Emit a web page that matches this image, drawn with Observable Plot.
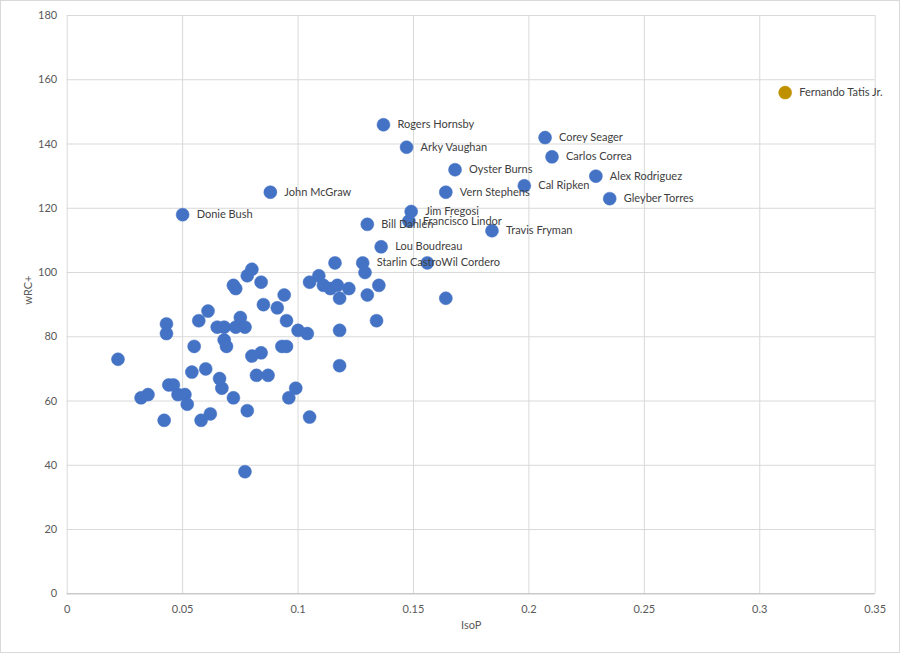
<!DOCTYPE html>
<html>
<head>
<meta charset="utf-8">
<script src="https://cdn.jsdelivr.net/npm/d3@7"></script>
<script src="https://cdn.jsdelivr.net/npm/@observablehq/plot@0.6"></script>
<style>
  html, body { margin: 0; padding: 0; background: #fff; }
  #chart { width: 900px; height: 653px; box-sizing: border-box; border: 1px solid #d9d9d9; overflow: hidden; }
  #chart svg { display: block; }
</style>
</head>
<body>
<div id="chart"></div>
<script>
// Labeled players
const labeledNames = ["Fernando Tatis Jr.", "Rogers Hornsby", "Arky Vaughan", "Oyster Burns", "Vern Stephens",
  "Cal Ripken", "Corey Seager", "Carlos Correa", "Alex Rodriguez", "Gleyber Torres", "Travis Fryman",
  "Jim Fregosi", "Francisco Lindor", "Bill Dahlen", "Lou Boudreau", "Starlin Castro", "Wil Cordero",
  "John McGraw", "Donie Bush"];
const labeledIsoP = [0.311, 0.137, 0.147, 0.168, 0.164, 0.198, 0.207, 0.210, 0.229, 0.235, 0.184,
  0.149, 0.148, 0.130, 0.136, 0.128, 0.156, 0.088, 0.050];
const labeledWRC = [156, 146, 139, 132, 125, 127, 142, 136, 130, 123, 113,
  119, 116, 115, 108, 103, 103, 125, 118];

// Unlabeled players
const otherIsoP = [0.080, 0.078, 0.084, 0.072, 0.073, 0.094, 0.085, 0.091, 0.061, 0.057, 0.043, 0.043,
  0.095, 0.065, 0.068, 0.075, 0.073, 0.077, 0.068, 0.069, 0.055, 0.022, 0.080, 0.084, 0.093, 0.095,
  0.054, 0.060, 0.066, 0.067, 0.082, 0.087, 0.072, 0.078, 0.096, 0.099, 0.032, 0.035, 0.044, 0.046,
  0.048, 0.051, 0.052, 0.042, 0.058, 0.062, 0.077, 0.116, 0.129, 0.109, 0.105, 0.111, 0.114, 0.117,
  0.122, 0.135, 0.118, 0.130, 0.134, 0.100, 0.104, 0.118, 0.118, 0.105, 0.164];
const otherWRC = [101, 99, 97, 96, 95, 93, 90, 89, 88, 85, 84, 81,
  85, 83, 83, 86, 83, 83, 79, 77, 77, 73, 74, 75, 77, 77,
  69, 70, 67, 64, 68, 68, 61, 57, 61, 64, 61, 62, 65, 65,
  62, 62, 59, 54, 54, 56, 38, 103, 100, 99, 97, 96, 95, 96,
  95, 96, 92, 93, 85, 82, 81, 82, 71, 55, 92];

const xTicks = [0, 0.05, 0.1, 0.15, 0.2, 0.25, 0.3, 0.35];
const yTicks = [0, 20, 40, 60, 80, 100, 120, 140, 160, 180];
const highlight = "Fernando Tatis Jr.";

const labeled = labeledNames.map((name, i) => ({name, isop: labeledIsoP[i], wrc: labeledWRC[i]}));
const others = otherIsoP.map((v, i) => ({isop: v, wrc: otherWRC[i]}));

const font = "Lato, 'Open Sans', sans-serif";

const chart = Plot.plot({
  width: 898,
  height: 651,
  marginLeft: 65.7,
  marginRight: 24.3,
  marginTop: 14,
  marginBottom: 58.7,
  style: {fontFamily: font, fontSize: "11px", background: "#fff"},
  x: {domain: [0, 0.35], ticks: xTicks},
  y: {domain: [0, 180], ticks: yTicks},
  marks: [
    Plot.gridX(xTicks, {stroke: "#d9d9d9", strokeOpacity: 1}),
    Plot.gridY(yTicks, {stroke: "#d9d9d9", strokeOpacity: 1}),
    Plot.ruleY([0], {stroke: "#bfbfbf"}),
    Plot.axisX(xTicks, {tickSize: 0, tickPadding: 11, label: null, fill: "#595959", tickFormat: d => String(d)}),
    Plot.axisY(yTicks, {tickSize: 0, tickPadding: 10, label: null, fill: "#595959"}),
    Plot.text(["IsoP"], {frameAnchor: "bottom", dy: 35, fill: "#595959", fontSize: 11}),
    Plot.text(["wRC+"], {frameAnchor: "left", dx: -39, rotate: -90, fill: "#595959", fontSize: 11}),
    Plot.dot(others, {x: "isop", y: "wrc", r: 6.5, fill: "#4472C4", stroke: "#4472C4", strokeWidth: 0.5}),
    Plot.dot(labeled, {x: "isop", y: "wrc", r: 6.5,
      fill: d => d.name === highlight ? "#BF9000" : "#4472C4",
      stroke: d => d.name === highlight ? "#BF9000" : "#4472C4", strokeWidth: 0.5}),
    Plot.text(labeled, {x: "isop", y: "wrc", text: "name", dx: 14, textAnchor: "start",
      fill: "#404040", fontSize: 11})
  ]
});
document.getElementById("chart").appendChild(chart);
</script>
</body>
</html>
